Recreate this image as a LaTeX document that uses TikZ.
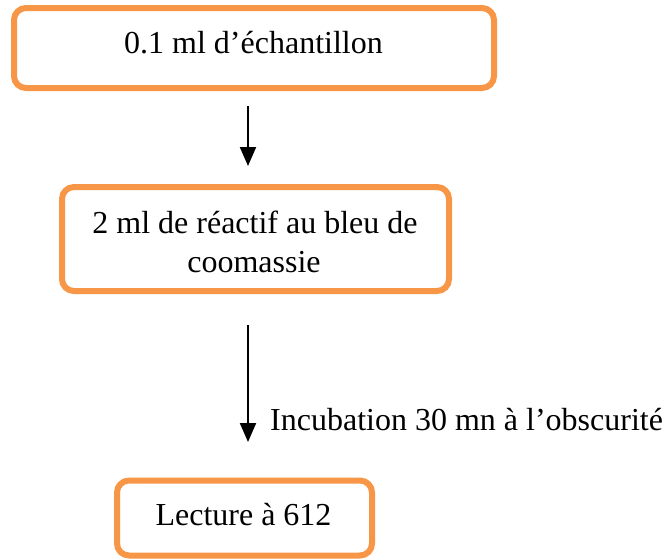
\documentclass[tikz,border=0pt]{standalone}
\usepackage{fontspec}
\setmainfont{Liberation Serif}
\usetikzlibrary{arrows.meta}
\definecolor{boxorange}{HTML}{F79646}
\tikzset{
  stepbox/.style={draw=boxorange, line width=6pt, rounded corners=12pt, inner sep=0pt},
  txt/.style={font=\fontsize{32}{39}\selectfont, inner sep=0pt, anchor=base},
  arr/.style={line width=2pt, -{Triangle[length=19pt,width=16pt]}}
}
\begin{document}
\begin{tikzpicture}[x=1pt,y=-1pt]
\useasboundingbox (0,0) rectangle (665,558);
% boxes
\node[stepbox, minimum width=480pt, minimum height=80pt] (b1) at (254,48) {};
\node[stepbox, minimum width=387pt, minimum height=104pt] (b2) at (255.5,239) {};
\node[stepbox, minimum width=255pt, minimum height=75pt] (b3) at (244.5,518) {};
% texts
\node[txt] (t1) at (253.5,53) {0.1 ml d’échantillon};
\node[txt] (t2a) at (255,233) {2 ml de réactif au bleu de};
\begin{scope}
\clip (150,240) rectangle (360,273);
\node[txt] (t2b) at (254,272) {coomassie};
\end{scope}
\node[txt] (t3) at (243.5,525) {Lecture à 612};
% arrows
\coordinate (a1s) at (248,106);
\coordinate (a1e) at (248,166);
\coordinate (a2s) at (248,325);
\coordinate (a2e) at (248,442);
\draw[arr] (a1s) -- (a1e);
\draw[arr] (a2s) -- (a2e);
\node[txt, anchor=base west] (lab) at (270,430) {Incubation 30 mn à l’obscurité};
\end{tikzpicture}
\end{document}
